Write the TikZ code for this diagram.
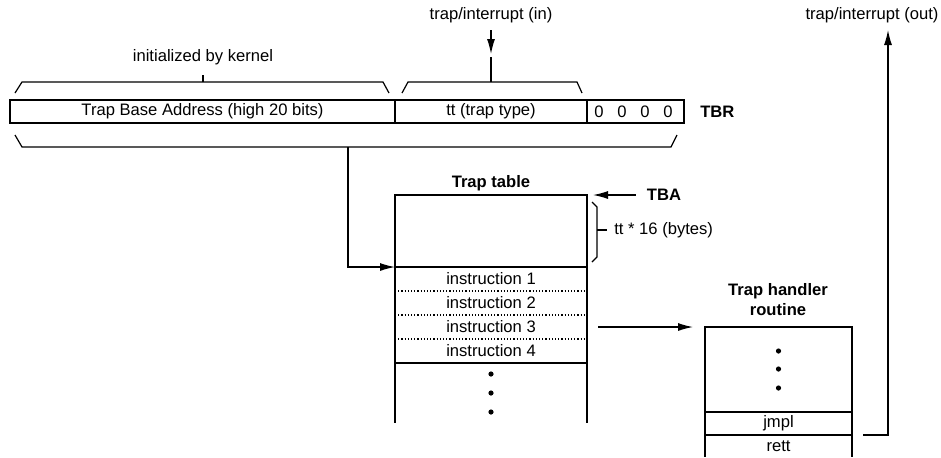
\documentclass[tikz,border=0pt]{standalone}
\usepackage{fontspec}
\setmainfont{Liberation Sans}
\usetikzlibrary{arrows.meta,positioning}

\begin{document}
\begin{tikzpicture}[x=0.5pt, y=-0.5pt, line width=0.6pt,
  font=\fontsize{8.3}{10}\selectfont,
  >={Latex[length=7.5pt,width=4pt]},
  cell/.style={draw, inner sep=0pt, outer sep=0pt, minimum height=11.5pt},
  row/.style={inner sep=0pt, outer sep=0pt, minimum width=96pt, minimum height=12pt},
  hrow/.style={inner sep=0pt, outer sep=0pt, minimum width=73.5pt, minimum height=11.5pt},
  title/.style={font=\fontsize{8.3}{10}\selectfont\bfseries, align=center},
  dot/.style={circle, fill, inner sep=0pt, minimum size=2.6pt}]
\useasboundingbox (0,0) rectangle (941,457);

% TBR register
\node[cell, minimum width=192.5pt] (tba) at (202.5,111.5) {Trap Base Address (high 20 bits)};
\node[cell, minimum width=96pt, right=0pt of tba] (tt) {tt (trap type)};
\node[cell, minimum width=48.5pt, right=0pt of tt] (low) {};
\foreach \i in {0,...,3}
  \node (z\i) at ([xshift=6pt+\i*11.5pt]tt.east) {0};
\node[title, right=4.5pt of low] (tbr) {TBR};

% braces over and under the register
\node (init) at (203,57) {initialized by kernel};
\draw (15,93) -- (22,82) -- (383,82) -- (389,93);
\draw (203,82) -- (203,75);
\node (inlab) at (491,15) {trap/interrupt (in)};
\draw[->] (inlab.south) -- ++(0,24);
\draw (402,93) -- (408,82) -- (577,82) -- (582,93);
\draw (491,82) -- (491,57);
\draw (15,135) -- (22,147) -- (671,147) -- (677,135);
\coordinate (base) at (348,147);

% trap table
\node[title] (ttitle) at (491,183) {Trap table};
\node[draw, inner sep=0pt, outer sep=0pt, minimum width=96pt, minimum height=36pt] (head) at (491,231) {};
\node[row, below=0pt of head] (i1) {instruction 1};
\node[row, below=0pt of i1] (i2) {instruction 2};
\node[row, below=0pt of i2] (i3) {instruction 3};
\node[row, below=0pt of i3] (i4) {instruction 4};
\draw (i1.north west) rectangle (i4.south east);
\foreach \r in {i1,i2,i3}
  \draw[dash pattern=on 0.6pt off 1pt] (\r.south west) -- (\r.south east);
\draw (i4.south west) -- ++(0,60);
\draw (i4.south east) -- ++(0,60);
\foreach \y in {374,393,412}
  \node[dot] (td\y) at (491,\y) {};

\node[title] (tbalab) at (664,195) {TBA};
\draw[->, shorten <=2pt] (tbalab.west) -- ([xshift=3pt]head.north east);
\draw (592,202) -- (597,207) -- (597,257) -- (592,262);
\node[anchor=west] (size) at (607,230) {tt * 16 (bytes)};
\draw (597,230) -- (size.west);

\draw[->] (base) |- (i1.north west);

% trap handler
\node[title] (htitle) at (778,300) {Trap handler\\routine};
\node[draw, inner sep=0pt, outer sep=0pt, minimum width=73.5pt, minimum height=42.5pt] (hdl) at (778.5,369.5) {};
\node[hrow, draw, below=0pt of hdl] (jmpl) {jmpl};
\node[hrow, minimum height=11pt, below=0pt of jmpl] (rett) {rett};
\draw (rett.north west) -- (rett.south west);
\draw (rett.north east) -- (rett.south east);
\foreach \y in {351,369,388}
  \node[dot] (hd\y) at (778.5,\y) {};

\draw[->] ([xshift=5.5pt]i3.east) -- ([xshift=-6pt]i3.east -| hdl.west);

\node (outlab) at (872,15) {trap/interrupt (out)};
\draw[->] ([xshift=5.5pt]jmpl.south east) -| ([xshift=8pt]outlab.south);
\end{tikzpicture}
\end{document}
